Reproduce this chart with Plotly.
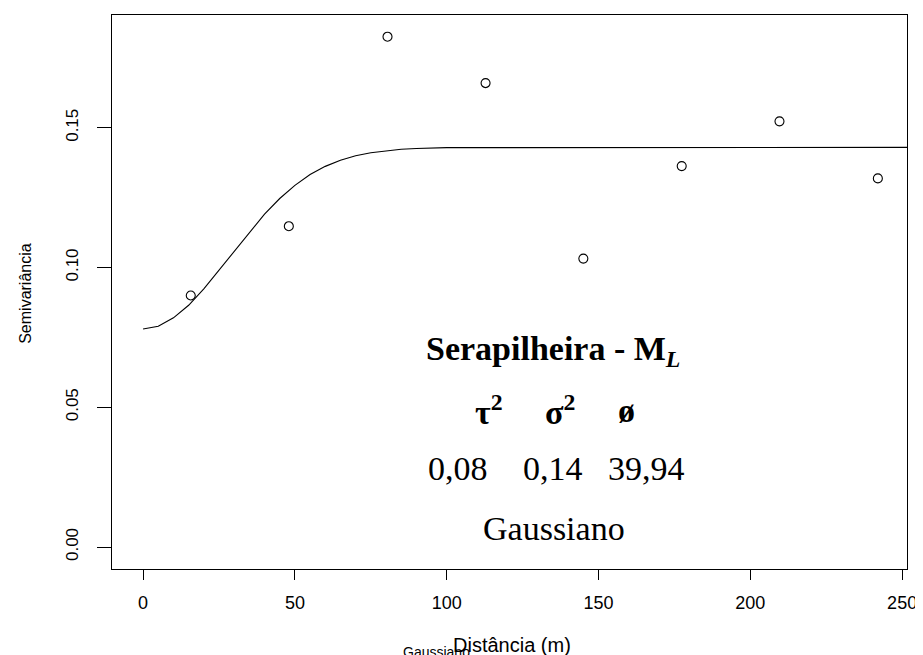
import plotly.graph_objects as go

# Empirical semivariogram points
lag_dist = [15.7, 48.0, 80.5, 112.8, 145.0, 177.4, 209.6, 242.0]
semivar = [0.0900, 0.1148, 0.1826, 0.1660, 0.1032, 0.1363, 0.1523, 0.1319]

# Fitted model curve
curve_x = [0, 5, 10, 15, 20, 25, 30, 35, 40, 45, 50, 55, 60, 65, 70, 75, 80, 85, 90, 95, 100, 255]
curve_y = [0.0780, 0.0790, 0.0820, 0.0865, 0.0924, 0.0991, 0.1060, 0.1128, 0.1191, 0.1247,
           0.1294, 0.1333, 0.1362, 0.1384, 0.1400, 0.1411, 0.1418, 0.1423, 0.1426, 0.1428,
           0.1429, 0.1430]

x_ticks = [0, 50, 100, 150, 200, 250]
y_ticks = [0.00, 0.05, 0.10, 0.15]
y_tick_labels = ["0.00", "0.05", "0.10", "0.15"]

param_names = ["τ<sup>2</sup>", "σ<sup>2</sup>", "ø"]
param_values = ["0,08", "0,14", "39,94"]

SERIF = "Liberation Serif, Times New Roman, serif"
SANS = "Liberation Sans, Arial, sans-serif"
SERIF_SIZE = 34

fig = go.Figure()
fig.add_trace(go.Scatter(x=curve_x, y=curve_y, mode="lines",
                         line=dict(color="black", width=1.1), showlegend=False))
fig.add_trace(go.Scatter(x=lag_dist, y=semivar, mode="markers",
                         marker=dict(symbol="circle-open", size=9, color="black",
                                     line=dict(width=1.1, color="black")),
                         showlegend=False))

annotations = []
annotations.append(dict(x=135.0, y=0.0700, xref="x", yref="y",
                        text="<b>Serapilheira - M<sub><i>L</i></sub></b>",
                        showarrow=False, font=dict(family=SERIF, size=SERIF_SIZE, color="black")))
param_x = [113.8, 137.4, 159.1]
for px, name in zip(param_x, param_names):
    annotations.append(dict(x=px, y=0.0489, xref="x", yref="y", text="<b>" + name + "</b>",
                            showarrow=False, font=dict(family=SERIF, size=SERIF_SIZE, color="black")))
value_x = [103.8, 135.0, 165.9]
for vx, val in zip(value_x, param_values):
    annotations.append(dict(x=vx, y=0.0282, xref="x", yref="y", text=val,
                            showarrow=False, font=dict(family=SERIF, size=SERIF_SIZE, color="black")))
annotations.append(dict(x=135.2, y=0.0065, xref="x", yref="y", text="Gaussiano",
                        showarrow=False, font=dict(family=SERIF, size=SERIF_SIZE, color="black")))

# axis titles (positions in page pixels converted to paper coords; plot area 112..910 x 14..569)
annotations.append(dict(x=(514 - 112) / 798, y=(569 - 645) / 555, xref="paper", yref="paper",
                        xanchor="center", yanchor="middle",
                        text="Distância (m)", showarrow=False,
                        font=dict(family=SANS, size=20, color="black")))
annotations.append(dict(x=(25 - 112) / 798, y=(569 - 293) / 555, xref="paper", yref="paper",
                        xanchor="center", yanchor="middle",
                        text="Semivariância", showarrow=False, textangle=-90,
                        font=dict(family=SANS, size=16, color="black")))
annotations.append(dict(x=(438 - 112) / 798, y=(569 - 642) / 555, xref="paper", yref="paper",
                        xanchor="center", yanchor="top", text="Gaussiano", showarrow=False,
                        font=dict(family=SANS, size=14, color="black")))

fig.update_layout(
    width=915, height=647,
    margin=dict(l=104, r=13, t=6, b=86),
    paper_bgcolor="white", plot_bgcolor="white",
    annotations=annotations,
    xaxis=dict(range=[-10.24, 251.6], tickvals=x_ticks, ticktext=[str(v) for v in x_ticks],
               showgrid=False, zeroline=False, showline=True, mirror=True,
               linecolor="black", linewidth=1, ticks="outside", ticklen=10,
               tickcolor="black", tickwidth=1, ticklabelstandoff=7,
               tickfont=dict(family=SANS, size=18, color="black")),
    yaxis=dict(range=[-0.00786, 0.19036], tickvals=y_ticks, ticktext=y_tick_labels,
               showgrid=False, zeroline=False, showline=True, mirror=True,
               linecolor="black", linewidth=1, ticks="outside", ticklen=14,
               tickcolor="black", tickwidth=1, tickangle=-90, ticklabelstandoff=12,
               tickfont=dict(family=SANS, size=17, color="black")),
)

fig.write_html("out.html")
